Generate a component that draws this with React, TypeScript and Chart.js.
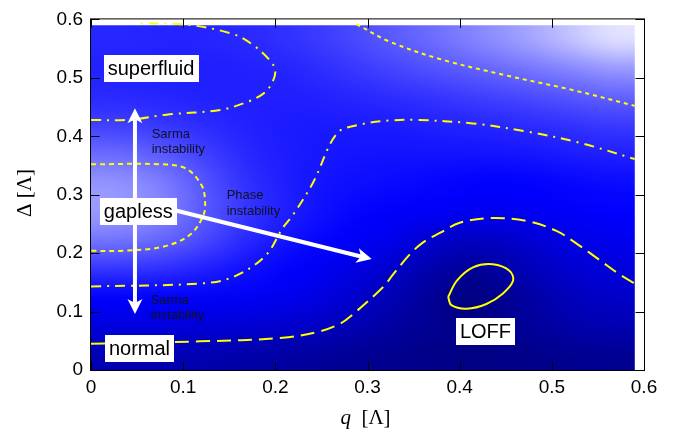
import React, { useEffect, useRef } from 'react';
import { Chart, registerables } from 'chart.js';

Chart.register(...registerables);

// ---------- axes ----------
const xTickValues = [0, 0.1, 0.2, 0.3, 0.4, 0.5, 0.6];
const xTickLabels = ['0', '0.1', '0.2', '0.3', '0.4', '0.5', '0.6'];
const yTickValues = [0, 0.1, 0.2, 0.3, 0.4, 0.5, 0.6];
const yTickLabels = ['0', '0.1', '0.2', '0.3', '0.4', '0.5', '0.6'];

// ---------- heat map (shade: -1 dark navy, 0 pure blue, +1 white) ----------
const heatQMax = 0.59;
const heatDMax = 0.59;
// rows from Δ ≈ 0.025 (bottom) up to Δ ≈ 0.565 (top); columns q ≈ 0.025 ... 0.565
const heatRows = [
  [-0.55, -0.55, -0.58, -0.62, -0.68, -0.74, -0.8, -0.85, -0.88, -0.85, -0.8, -0.78],
  [-0.25, -0.25, -0.28, -0.32, -0.38, -0.5, -0.65, -0.78, -0.85, -0.75, -0.62, -0.55],
  [-0.02, -0.03, -0.05, -0.08, -0.14, -0.3, -0.5, -0.75, -0.92, -0.7, -0.5, -0.4],
  [0.2, 0.18, 0.12, 0.05, -0.03, -0.15, -0.35, -0.6, -0.75, -0.55, -0.35, -0.25],
  [0.45, 0.4, 0.28, 0.15, 0.05, -0.03, -0.12, -0.35, -0.45, -0.35, -0.2, -0.12],
  [0.6, 0.52, 0.35, 0.2, 0.1, 0.03, -0.02, -0.06, -0.1, -0.08, -0.04, 0],
  [0.58, 0.5, 0.33, 0.18, 0.1, 0.06, 0.04, 0.02, 0, 0, 0.02, 0.04],
  [0.42, 0.36, 0.25, 0.15, 0.1, 0.08, 0.07, 0.07, 0.07, 0.08, 0.1, 0.12],
  [0.25, 0.22, 0.17, 0.13, 0.1, 0.1, 0.1, 0.12, 0.14, 0.16, 0.19, 0.22],
  [0.16, 0.15, 0.13, 0.12, 0.12, 0.14, 0.17, 0.2, 0.24, 0.28, 0.33, 0.38],
  [0.13, 0.12, 0.12, 0.13, 0.15, 0.2, 0.26, 0.32, 0.38, 0.45, 0.52, 0.6],
  [0.15, 0.14, 0.14, 0.16, 0.2, 0.26, 0.34, 0.42, 0.52, 0.62, 0.75, 0.88],
];

// ---------- contours ----------
const superfluidUpperContour = [
  { x: 0, y: 0.428 }, { x: 0.04, y: 0.428 }, { x: 0.082, y: 0.437 }, { x: 0.14, y: 0.445 },
  { x: 0.17, y: 0.459 }, { x: 0.187, y: 0.473 }, { x: 0.196, y: 0.49 }, { x: 0.2, y: 0.512 },
  { x: 0.194, y: 0.53 }, { x: 0.176, y: 0.556 }, { x: 0.154, y: 0.575 }, { x: 0.104, y: 0.591 },
  { x: 0.051, y: 0.593 },
];
const topRightDotted = [
  { x: 0.288, y: 0.592 }, { x: 0.324, y: 0.562 }, { x: 0.379, y: 0.532 }, { x: 0.451, y: 0.504 },
  { x: 0.523, y: 0.479 }, { x: 0.59, y: 0.452 },
];
const gaplessDotted = [
  { x: 0, y: 0.352 }, { x: 0.078, y: 0.352 }, { x: 0.104, y: 0.344 }, { x: 0.12, y: 0.316 },
  { x: 0.1236, y: 0.293 }, { x: 0.122, y: 0.265 }, { x: 0.107, y: 0.231 }, { x: 0.078, y: 0.211 },
  { x: 0.035, y: 0.204 }, { x: 0, y: 0.204 },
];
const middleDashDot = [
  { x: 0, y: 0.143 }, { x: 0.118, y: 0.148 }, { x: 0.154, y: 0.159 }, { x: 0.189, y: 0.195 },
  { x: 0.208, y: 0.243 }, { x: 0.219, y: 0.265 }, { x: 0.241, y: 0.321 }, { x: 0.267, y: 0.405 },
  { x: 0.292, y: 0.42 }, { x: 0.324, y: 0.427 }, { x: 0.353, y: 0.428 }, { x: 0.414, y: 0.422 },
  { x: 0.473, y: 0.408 }, { x: 0.53, y: 0.389 }, { x: 0.59, y: 0.361 },
];
const normalDashed = [
  { x: 0, y: 0.045 }, { x: 0.118, y: 0.049 }, { x: 0.208, y: 0.055 }, { x: 0.248, y: 0.066 },
  { x: 0.27, y: 0.079 }, { x: 0.281, y: 0.091 }, { x: 0.317, y: 0.142 }, { x: 0.328, y: 0.164 },
  { x: 0.346, y: 0.198 }, { x: 0.36, y: 0.218 }, { x: 0.379, y: 0.235 }, { x: 0.4, y: 0.252 },
  { x: 0.433, y: 0.26 }, { x: 0.473, y: 0.255 }, { x: 0.505, y: 0.238 }, { x: 0.528, y: 0.215 },
  { x: 0.552, y: 0.188 }, { x: 0.574, y: 0.163 }, { x: 0.59, y: 0.148 },
];
const loffSolid = [
  { x: 0.3875, y: 0.125 }, { x: 0.397, y: 0.153 }, { x: 0.415, y: 0.176 }, { x: 0.436, y: 0.181 },
  { x: 0.454, y: 0.17 }, { x: 0.458, y: 0.153 }, { x: 0.447, y: 0.131 }, { x: 0.429, y: 0.113 },
  { x: 0.4075, y: 0.105 }, { x: 0.391, y: 0.111 }, { x: 0.3875, y: 0.125 },
];

// ---------- annotations (data units) ----------
const boxLabels = [
  { text: 'superfluid', x: 0.0651, y: 0.5155 },
  { text: 'gapless', x: 0.0513, y: 0.2709 },
  { text: 'normal', x: 0.0526, y: 0.0372 },
  { text: 'LOFF', x: 0.428, y: 0.0659 },
];
const smallLabels = [
  { lines: ['Sarma', 'instability'], x: 0.0658, y1: 0.4027, y2: 0.3774 },
  { lines: ['Phase', 'instability'], x: 0.1472, y1: 0.2986, y2: 0.2716 },
  { lines: ['Sarma', 'instability'], x: 0.0647, y1: 0.1195, y2: 0.093 },
];
const arrows = [
  { from: { x: 0.0477, y: 0.273 }, to: { x: 0.0477, y: 0.448 } },
  { from: { x: 0.0477, y: 0.273 }, to: { x: 0.0477, y: 0.0958 } },
  { from: { x: 0.092, y: 0.273 }, to: { x: 0.3045, y: 0.1898 } },
];

const SANS = '"Liberation Sans", Arial, Helvetica, sans-serif';
const SERIF = '"Liberation Serif", "Times New Roman", serif';

function shadeToRGB(v: number): [number, number, number] {
  if (v >= 0) {
    const c = Math.round(255 * Math.min(1, v));
    return [c, c, 255];
  }
  return [0, 0, Math.round(255 * (1 + 0.55 * Math.max(-1, v)))];
}

const heatmapPlugin = {
  id: 'heatmap',
  beforeDatasetsDraw(chart: any) {
    const { ctx } = chart;
    const xs = chart.scales.x;
    const ys = chart.scales.y;
    const nRows = heatRows.length;
    const nCols = heatRows[0].length;
    const off = document.createElement('canvas');
    off.width = nCols;
    off.height = nRows;
    const octx = off.getContext('2d')!;
    const img = octx.createImageData(nCols, nRows);
    for (let r = 0; r < nRows; r++) {
      const row = heatRows[nRows - 1 - r];
      for (let c = 0; c < nCols; c++) {
        const [R, G, B] = shadeToRGB(row[c]);
        const i = (r * nCols + c) * 4;
        img.data[i] = R;
        img.data[i + 1] = G;
        img.data[i + 2] = B;
        img.data[i + 3] = 255;
      }
    }
    octx.putImageData(img, 0, 0);
    const x0 = xs.getPixelForValue(0);
    const x1 = xs.getPixelForValue(heatQMax);
    const y0 = ys.getPixelForValue(heatDMax);
    const y1 = ys.getPixelForValue(0);
    ctx.save();
    ctx.imageSmoothingEnabled = true;
    (ctx as any).imageSmoothingQuality = 'high';
    ctx.beginPath();
    ctx.rect(x0, y0, x1 - x0, y1 - y0);
    ctx.clip();
    ctx.drawImage(off, x0, y0, x1 - x0, y1 - y0);
    ctx.restore();
  },
};

function drawArrow(ctx: CanvasRenderingContext2D, ax: number, ay: number, bx: number, by: number) {
  const dx = bx - ax;
  const dy = by - ay;
  const len = Math.hypot(dx, dy);
  const ux = dx / len;
  const uy = dy / len;
  const headLen = 15;
  const halfW = 7.5;
  const notch = 11;
  ctx.strokeStyle = '#ffffff';
  ctx.lineWidth = 4;
  ctx.beginPath();
  ctx.moveTo(ax, ay);
  ctx.lineTo(bx - ux * notch, by - uy * notch);
  ctx.stroke();
  const px = -uy;
  const py = ux;
  ctx.fillStyle = '#ffffff';
  ctx.beginPath();
  ctx.moveTo(bx, by);
  ctx.lineTo(bx - ux * headLen + px * halfW, by - uy * headLen + py * halfW);
  ctx.lineTo(bx - ux * notch, by - uy * notch);
  ctx.lineTo(bx - ux * headLen - px * halfW, by - uy * headLen - py * halfW);
  ctx.closePath();
  ctx.fill();
}

const overlayPlugin = {
  id: 'overlay',
  afterDraw(chart: any) {
    const { ctx, chartArea } = chart;
    const xs = chart.scales.x;
    const ys = chart.scales.y;
    ctx.save();

    // arrows
    arrows.forEach((a) => {
      drawArrow(
        ctx,
        xs.getPixelForValue(a.from.x), ys.getPixelForValue(a.from.y),
        xs.getPixelForValue(a.to.x), ys.getPixelForValue(a.to.y)
      );
    });

    // small labels
    ctx.fillStyle = '#111122';
    ctx.font = `13px ${SANS}`;
    ctx.textAlign = 'left';
    ctx.textBaseline = 'middle';
    smallLabels.forEach((l) => {
      const px = xs.getPixelForValue(l.x);
      ctx.fillText(l.lines[0], px, ys.getPixelForValue(l.y1));
      ctx.fillText(l.lines[1], px, ys.getPixelForValue(l.y2));
    });

    // boxed labels
    ctx.font = `20px ${SANS}`;
    ctx.textAlign = 'center';
    boxLabels.forEach((b) => {
      const cx = xs.getPixelForValue(b.x);
      const cy = ys.getPixelForValue(b.y);
      const w = ctx.measureText(b.text).width + 8;
      const h = 27;
      ctx.fillStyle = '#ffffff';
      ctx.fillRect(Math.round(cx - w / 2), Math.round(cy - h / 2), Math.round(w), h);
      ctx.fillStyle = '#000000';
      ctx.fillText(b.text, cx, cy + 1);
    });

    // frame
    const L = chartArea.left - 0.5;
    const T = chartArea.top - 0.5;
    const R = chartArea.right + 0.5;
    const B = chartArea.bottom + 0.5;
    ctx.strokeStyle = '#000000';
    ctx.lineWidth = 1;
    ctx.strokeRect(L, T, R - L, B - T);

    // inward ticks on all sides
    const tl = 9;
    ctx.beginPath();
    xTickValues.forEach((v) => {
      const px = Math.round(xs.getPixelForValue(v)) + 0.5;
      ctx.moveTo(px, B);
      ctx.lineTo(px, B - tl);
      ctx.moveTo(px, T);
      ctx.lineTo(px, T + tl);
    });
    yTickValues.forEach((v) => {
      const py = Math.round(ys.getPixelForValue(v)) + 0.5;
      ctx.moveTo(L, py);
      ctx.lineTo(L + tl, py);
      ctx.moveTo(R, py);
      ctx.lineTo(R - tl, py);
    });
    ctx.stroke();

    // x axis title: italic q  [Λ]
    ctx.fillStyle = '#000000';
    ctx.textBaseline = 'alphabetic';
    ctx.textAlign = 'left';
    const qFont = `italic 21px ${SERIF}`;
    const bFont = `21px ${SERIF}`;
    ctx.font = qFont;
    const qW = ctx.measureText('q').width;
    ctx.font = bFont;
    const restText = '  [Λ]';
    const rW = ctx.measureText(restText).width;
    const xCenter = (chartArea.left + chartArea.right) / 2 - 2;
    const startX = xCenter - (qW + rW) / 2;
    const baseY = 424;
    ctx.font = qFont;
    ctx.fillText('q', startX, baseY);
    ctx.font = bFont;
    ctx.fillText(restText, startX + qW, baseY);

    // y axis title: Δ [Λ] rotated
    ctx.save();
    ctx.translate(31, 193);
    ctx.rotate(-Math.PI / 2);
    ctx.textAlign = 'center';
    ctx.font = `21px ${SERIF}`;
    ctx.fillText('Δ [Λ]', 0, 0);
    ctx.restore();

    ctx.restore();
  },
};

function lineDataset(data: any[], dash: number[], width = 2) {
  return {
    data,
    showLine: true,
    borderColor: '#ffff00',
    borderWidth: width,
    borderDash: dash,
    pointRadius: 0,
    pointHoverRadius: 0,
    tension: 0.35,
    fill: false,
  };
}

export default function App() {
  const canvasRef = useRef<HTMLCanvasElement | null>(null);

  useEffect(() => {
    const canvas = canvasRef.current;
    if (!canvas) return;
    const chart = new Chart(canvas, {
      type: 'scatter',
      data: {
        datasets: [
          lineDataset(superfluidUpperContour, [10, 6, 2, 6]),
          lineDataset(topRightDotted, [4, 4]),
          lineDataset(gaplessDotted, [5, 4]),
          lineDataset(middleDashDot, [10, 6, 2, 6]),
          lineDataset(normalDashed, [14, 7]),
          lineDataset(loffSolid, []),
        ] as any,
      },
      options: {
        responsive: false,
        animation: false,
        devicePixelRatio: 1,
        layout: { padding: { top: 15, right: 37, left: 0, bottom: 0 } },
        plugins: {
          legend: { display: false },
          tooltip: { enabled: false },
        },
        events: [],
        scales: {
          x: {
            type: 'linear',
            min: 0,
            max: 0.6,
            grid: { display: false, drawTicks: false },
            border: { display: false },
            afterFit: (s: any) => { s.height = 62; },
            afterBuildTicks: (s: any) => { s.ticks = xTickValues.map((v) => ({ value: v })); },
            ticks: {
              padding: 6,
              color: '#000000',
              font: { family: SANS, size: 19 },
              callback: (v: any) => {
                const i = xTickValues.findIndex((t) => Math.abs(t - Number(v)) < 1e-9);
                return i >= 0 ? xTickLabels[i] : '';
              },
            },
          },
          y: {
            type: 'linear',
            min: 0,
            max: 0.6,
            grid: { display: false, drawTicks: false },
            border: { display: false },
            afterFit: (s: any) => { s.width = 91; },
            afterBuildTicks: (s: any) => { s.ticks = yTickValues.map((v) => ({ value: v })); },
            ticks: {
              padding: 8,
              color: '#000000',
              font: { family: SANS, size: 19 },
              callback: (v: any) => {
                const i = yTickValues.findIndex((t) => Math.abs(t - Number(v)) < 1e-9);
                return i >= 0 ? yTickLabels[i] : '';
              },
            },
          },
        },
      },
      plugins: [heatmapPlugin, overlayPlugin],
    });
    return () => chart.destroy();
  }, []);

  return (
    <div style={{ position: 'fixed', left: 0, top: 0, width: 681, height: 432, background: '#ffffff' }}>
      <canvas ref={canvasRef} width={681} height={432} style={{ display: 'block' }} />
    </div>
  );
}
